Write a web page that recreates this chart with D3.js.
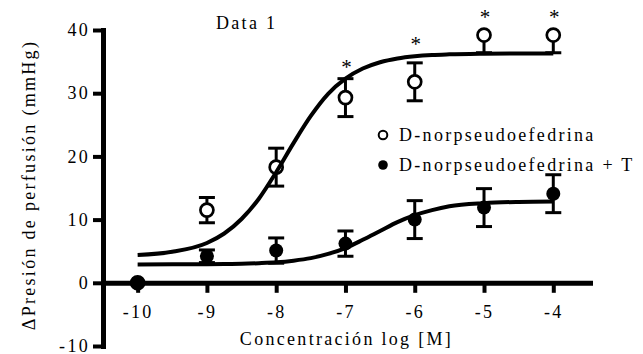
<!DOCTYPE html>
<html>
<head>
<meta charset="utf-8">
<script src="https://cdn.jsdelivr.net/npm/d3@7"></script>
<style>
  body { margin: 0; background: #fff; }
  svg text { font-family: "Liberation Serif", "DejaVu Serif", serif; fill: #000; letter-spacing: 2.3px; }
</style>
</head>
<body>
<div id="chart"></div>
<script>
const DOSES = [-10, -9, -8, -7, -6, -5, -4]
const OPEN_MEAN = [0, 11.5, 18.3, 29.3, 31.8, 39.2, 39.2]
const OPEN_ERR_LOW = [0, 2, 3, 3, 3, 2.8, 2.8]
const OPEN_ERR_HIGH = [0, 2, 3, 3, 3, 0, 0]
const FILLED_MEAN = [0, 4.2, 5.1, 6.2, 10.0, 11.9, 14.1]
const FILLED_ERR = [0, 1, 2, 2, 3, 3, 3]

// fitted curves
const FIT_X = [-10, -9.5, -9, -8.75, -8.5, -8.25, -8, -7.75, -7.5, -7.25, -7, -6.75, -6.5, -6.25, -6, -5.75, -5.5, -5, -4.5, -4]
const OPEN_FIT = [4.4, 4.9, 6.3, 7.8, 10.1, 13.3, 17.5, 22.1, 26.4, 29.9, 32.3, 33.9, 34.9, 35.5, 35.85, 36.05, 36.15, 36.25, 36.3, 36.3]
const FILLED_FIT = [2.9, 2.92, 2.94, 2.96, 3.0, 3.1, 3.24, 3.5, 3.9, 4.57, 5.5, 6.8, 8.2, 9.6, 10.7, 11.5, 12.1, 12.6, 12.8, 12.87]

const SIG_DOSES = [-7, -6, -5, -4]
const SIG_LEVEL = [34.4, 38.1, 42.4, 42.4]

const X_TICKS = [-10, -9, -8, -7, -6, -5, -4]
const Y_TICKS = [-10, 0, 10, 20, 30, 40]

const SERIES = ['D-norpseudoefedrina', 'D-norpseudoefedrina + T']

const WIDTH = 643
const HEIGHT = 354
const FONT = '"Liberation Serif", "DejaVu Serif", serif'

let svg = d3.select('#chart')
  .append('svg')
    .attr('width', WIDTH)
    .attr('height', HEIGHT)
    .attr('font-family', FONT)

let x = d3.scaleLinear()
  .domain([-10.5, -3.47])
  .range([103, 590])

let y = d3.scaleLinear()
  .domain([-10, 40])
  .range([346, 30])

// axes
let x_axis = svg.append('g')
  .attr('transform', 'translate(0,' + y(0) + ')')
  .call(d3.axisBottom(x).tickValues(X_TICKS).tickFormat((d) => String(d))
    .tickSize(10).tickSizeOuter(0).tickPadding(12))

let y_axis = svg.append('g')
  .attr('transform', 'translate(' + x.range()[0] + ',0)')
  .call(d3.axisLeft(y).tickValues(Y_TICKS).tickFormat((d) => String(d))
    .tickSize(10).tickSizeOuter(0).tickPadding(3))

for (let ax of [x_axis, y_axis]) {
  ax.attr('font-family', FONT).attr('font-size', 18)
  ax.select('.domain').attr('stroke', '#000').attr('stroke-width', 5).attr('stroke-linecap', 'square')
  ax.selectAll('.tick line').attr('stroke', '#000').attr('stroke-width', 4)
  ax.selectAll('.tick text').attr('fill', '#000')
}

// points, error bars
let groups = [
  { mean: OPEN_MEAN, lo: OPEN_ERR_LOW, hi: OPEN_ERR_HIGH, open: true },
  { mean: FILLED_MEAN, lo: FILLED_ERR, hi: FILLED_ERR, open: false }
]

groups.forEach((s) => {
  let pts = DOSES.map((d, i) => ({ x: d, m: s.mean[i], lo: s.lo[i], hi: s.hi[i] }))
  let g = svg.append('g')

  let eb = g.selectAll('.eb').data(pts.filter((d) => d.lo > 0 || d.hi > 0)).enter().append('g')
    .attr('stroke', '#000').attr('stroke-width', 3)
  eb.append('line')
    .attr('x1', (d) => x(d.x)).attr('x2', (d) => x(d.x))
    .attr('y1', (d) => y(d.m - d.lo)).attr('y2', (d) => y(d.m + d.hi))
  eb.filter((d) => d.hi > 0).append('line')
    .attr('x1', (d) => x(d.x) - 8).attr('x2', (d) => x(d.x) + 8)
    .attr('y1', (d) => y(d.m + d.hi)).attr('y2', (d) => y(d.m + d.hi))
  eb.filter((d) => d.lo > 0).append('line')
    .attr('x1', (d) => x(d.x) - 8).attr('x2', (d) => x(d.x) + 8)
    .attr('y1', (d) => y(d.m - d.lo)).attr('y2', (d) => y(d.m - d.lo))

  g.selectAll('circle').data(pts).enter().append('circle')
    .attr('cx', (d) => x(d.x))
    .attr('cy', (d) => y(d.m))
    .attr('r', s.open ? 6.5 : 7)
    .attr('fill', s.open ? '#fff' : '#000')
    .attr('stroke', '#000')
    .attr('stroke-width', s.open ? 2.7 : 0)
})

// fitted curves on top
let line = d3.line()
  .x((d) => x(d[0]))
  .y((d) => y(d[1]))
  .curve(d3.curveMonotoneX)

for (let fit of [OPEN_FIT, FILLED_FIT]) {
  svg.append('path')
    .datum(FIT_X.map((v, i) => [v, fit[i]]))
    .attr('d', line)
    .attr('fill', 'none')
    .attr('stroke', '#000')
    .attr('stroke-width', 4)
}

// significance marks
svg.selectAll('.sig').data(SIG_DOSES).enter().append('text')
  .attr('x', (d) => x(d) + 1)
  .attr('y', (d, i) => y(SIG_LEVEL[i]) + 9)
  .attr('text-anchor', 'middle')
  .style('font-size', '21px')
  .style('letter-spacing', '0px')
  .text('*')

// title
svg.append('text')
  .attr('x', 216)
  .attr('y', 29)
  .style('font-size', '18px')
  .text('Data 1')

// legend
let legend = svg.append('g')
let leg_y = [135, 165]
SERIES.forEach((name, i) => {
  legend.append('circle')
    .attr('cx', 383).attr('cy', leg_y[i])
    .attr('r', i === 0 ? 4.3 : 4.8)
    .attr('fill', i === 0 ? '#fff' : '#000')
    .attr('stroke', '#000')
    .attr('stroke-width', i === 0 ? 2 : 0)
  legend.append('text')
    .attr('x', 399).attr('y', leg_y[i] + 6)
    .style('font-size', '18px')
    .text(name)
})

// axis titles
svg.append('text')
  .attr('x', d3.mean(x.range()))
  .attr('y', 345)
  .attr('text-anchor', 'middle')
  .style('font-size', '18px')
  .text('Concentración log [M]')

svg.append('text')
  .attr('transform', 'translate(35,185)rotate(-90)')
  .attr('text-anchor', 'middle')
  .style('font-size', '18px')
  .text('ΔPresión de perfusión (mmHg)')
</script>
</body>
</html>
